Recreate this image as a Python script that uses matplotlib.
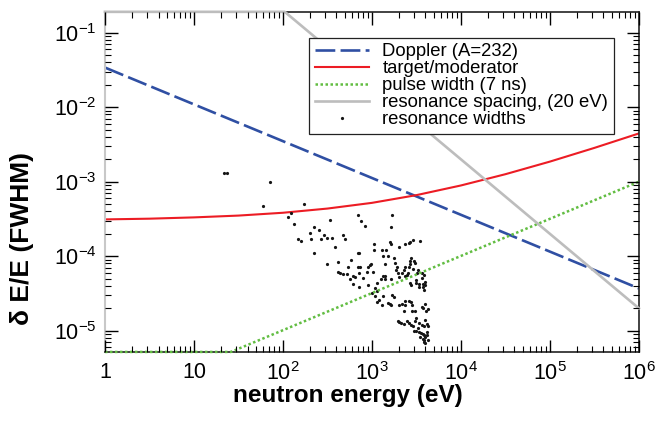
import numpy as np
import matplotlib.pyplot as plt
from matplotlib.ticker import LogLocator, NullFormatter, FixedLocator, FixedFormatter

plt.rcParams['font.family'] = ['Liberation Sans', 'DejaVu Sans']
plt.rcParams['mathtext.default'] = 'regular'

y_lim = (5.2e-6, 0.19)
x_lim = (1, 1e6)

# Doppler broadening (A=232)
doppler_e = [1, 1e6]
doppler_w = [0.034, 3.7e-5]

# target/moderator contribution
target_e = [1, 3.16, 10, 31.6, 100, 316, 1e3, 3.16e3, 1e4, 3.16e4, 1e5, 3.16e5, 1e6]
target_w = [3.12e-4, 3.19e-4, 3.32e-4, 3.51e-4, 3.83e-4, 4.36e-4, 5.2e-4,
            6.6e-4, 8.9e-4, 1.26e-3, 1.86e-3, 2.84e-3, 4.44e-3]

# pulse width (7 ns), runs along the bottom edge where it is off scale
pulse_e = [1, 26, 1e6]
pulse_w = [5.2e-6, 5.2e-6, 1.0e-3]

# resonance spacing (20 eV), runs along the top edge where it is off scale
spacing_e = [1, 105, 1e6]
spacing_w = [0.19, 0.19, 2.0e-5]

# resonance widths, log10(E) and log10(dE/E)
res_log_e = [1.34, 1.37, 1.85, 1.78, 2.24, 2.09, 2.06, 2.12, 2.17, 2.20,
             2.30, 2.35, 2.41, 2.31, 2.43, 2.46, 2.50, 2.53, 2.55, 2.58,
             2.35, 2.50, 2.62, 2.62, 2.64, 2.68, 2.70, 2.73, 2.72, 2.67,
             2.77, 2.79, 2.81, 2.75, 2.84, 2.88, 2.92, 2.84, 2.86, 2.84,
             2.87, 2.86, 2.90, 2.94, 2.96, 2.98, 3.01, 3.02, 3.02, 3.23,
             3.22, 3.20, 3.21, 3.37, 3.42, 3.43, 3.46, 3.54, 3.31, 3.11,
             3.16, 3.13, 3.18, 3.44, 3.43, 3.47, 3.25, 3.15, 3.26, 2.99,
             3.43, 3.48, 3.42, 3.37, 3.28, 3.36, 3.46, 3.27, 3.29, 3.34,
             3.40, 3.52, 3.56, 3.51, 3.13, 3.15, 3.37, 3.31, 3.10, 3.15,
             3.22, 3.56, 3.59, 3.06, 3.03, 3.06, 3.39, 3.43, 3.44, 3.49,
             3.50, 3.53, 3.53, 3.57, 3.57, 3.58, 3.60, 3.60, 3.13, 3.23,
             3.25, 3.18, 3.20, 3.11, 3.22, 3.31, 3.34, 3.37, 3.37, 3.42,
             3.44, 3.45, 3.36, 3.45, 3.48, 3.56, 3.57, 3.60, 3.61, 3.63,
             3.29, 3.31, 3.33, 3.36, 3.39, 3.42, 3.44, 3.46, 3.48, 3.49,
             3.53, 3.56, 3.58, 3.60, 3.62, 3.63, 3.50, 3.53, 3.55, 3.57,
             3.59, 3.60, 3.54, 3.57, 3.58, 3.59, 3.60, 3.62, 3.62, 3.63,
             3.52, 3.47, 2.79, 2.86, 2.96, 3.00, 3.03, 3.06, 3.08]
res_log_w = [-2.89, -2.88, -3.01, -3.33, -3.30, -3.42, -3.48, -3.57, -3.77, -3.79,
             -3.69, -3.61, -3.65, -3.77, -3.77, -3.72, -3.76, -3.52, -3.75, -3.88,
             -3.95, -4.10, -4.08, -4.21, -4.23, -3.72, -3.77, -4.14, -4.24, -4.24,
             -4.05, -4.27, -4.28, -4.30, -3.45, -3.53, -3.59, -3.96, -3.96, -4.14,
             -4.15, -4.22, -4.29, -4.21, -4.15, -4.12, -4.21, -3.84, -3.91, -3.45,
             -3.61, -3.81, -3.83, -3.83, -3.82, -3.81, -3.78, -3.79, -3.88, -3.91,
             -3.92, -4.00, -4.00, -4.02, -4.06, -4.06, -4.03, -4.11, -4.09, -4.11,
             -4.10, -4.09, -4.14, -4.14, -4.15, -4.18, -4.17, -4.19, -4.22, -4.23,
             -4.23, -4.19, -4.23, -4.23, -4.27, -4.26, -4.27, -4.28, -4.30, -4.30,
             -4.30, -4.29, -4.25, -4.36, -4.42, -4.46, -4.25, -4.36, -4.39, -4.36,
             -4.32, -4.37, -4.41, -4.37, -4.41, -4.45, -4.35, -4.39, -4.54, -4.52,
             -4.55, -4.63, -4.64, -4.65, -4.65, -4.66, -4.64, -4.60, -4.65, -4.60,
             -4.62, -4.66, -4.73, -4.74, -4.73, -4.68, -4.70, -4.64, -4.73, -4.71,
             -4.87, -4.88, -4.90, -4.91, -4.87, -4.89, -4.92, -4.93, -4.87, -4.83,
             -4.90, -4.92, -4.93, -4.86, -4.91, -4.93, -5.00, -5.02, -5.03, -5.04,
             -5.06, -5.09, -5.09, -5.11, -5.13, -5.15, -5.17, -5.02, -5.06, -5.12,
             -4.96, -5.00, -4.37, -4.41, -4.39, -4.49, -4.54, -4.61, -4.59]

x_ticks = [1, 10, 1e2, 1e3, 1e4, 1e5, 1e6]
x_tick_labels = ['1', '10', '$10^{2}$', '$10^{3}$', '$10^{4}$', '$10^{5}$', '$10^{6}$']
y_ticks = [1e-5, 1e-4, 1e-3, 1e-2, 1e-1]
y_tick_labels = ['$10^{-5}$', '$10^{-4}$', '$10^{-3}$', '$10^{-2}$', '$10^{-1}$']

fig = plt.figure(figsize=(6.6, 4.23), dpi=100)
ax = fig.add_axes([0.159, 0.168, 0.809, 0.804])

ax.plot(doppler_e, doppler_w, color='#2f4fa3', lw=1.9, dashes=(7.5, 2.0),
        label='Doppler (A=232)')
ax.plot(target_e, target_w, color='#ec1c24', lw=1.5, label='target/moderator')
ax.plot(pulse_e, pulse_w, color='#62bd42', lw=1.8, dashes=(1.0, 1.0),
        label='pulse width (7 ns)', clip_on=False, zorder=3)
ax.plot(spacing_e, spacing_w, color='#bdbdbd', lw=1.9,
        label='resonance spacing, (20 eV)', clip_on=False, zorder=3)
ax.plot(10 ** np.array(res_log_e), 10 ** np.array(res_log_w), 'o', color='#151515',
        ms=2.3, mew=0, label='resonance widths')

ax.set_xscale('log')
ax.set_yscale('log')
ax.set_xlim(x_lim)
ax.set_ylim(y_lim)

ax.xaxis.set_major_locator(FixedLocator(x_ticks))
ax.xaxis.set_major_formatter(FixedFormatter(x_tick_labels))
ax.yaxis.set_major_locator(FixedLocator(y_ticks))
ax.yaxis.set_major_formatter(FixedFormatter(y_tick_labels))
ax.xaxis.set_minor_locator(LogLocator(base=10, subs=np.arange(2, 10), numticks=20))
ax.yaxis.set_minor_locator(LogLocator(base=10, subs=np.arange(2, 10), numticks=20))
ax.xaxis.set_minor_formatter(NullFormatter())
ax.yaxis.set_minor_formatter(NullFormatter())

ax.tick_params(which='both', direction='in', top=True, right=True, labelsize=15.5)
ax.tick_params(which='major', length=9, width=1.0)
ax.tick_params(which='minor', length=4.5, width=0.8)
ax.tick_params(axis='x', pad=7)
ax.tick_params(axis='y', pad=6)
# ticks drawn above the edge-hugging lines
ax.xaxis.set_zorder(3.5)
ax.yaxis.set_zorder(3.5)

for side in ['bottom', 'right', 'top']:
    ax.spines[side].set_color('#222222')
    ax.spines[side].set_linewidth(1.2)
ax.spines['left'].set_color('#c8c8c8')
ax.spines['left'].set_linewidth(1.5)

ax.set_xlabel('neutron energy (eV)', fontsize=17.5, fontweight='bold')
ax.xaxis.set_label_coords(0.455, -0.095)
ax.set_ylabel('\u03b4 E/E (FWHM)', fontsize=19, fontweight='bold')
ax.yaxis.set_label_coords(-0.133, 0.335)

leg = ax.legend(loc='upper right', bbox_to_anchor=(0.953, 0.924), borderaxespad=0,
                fontsize=13.3, frameon=True, fancybox=False, framealpha=1,
                edgecolor='#222222', handlelength=2.9, handletextpad=0.75,
                labelspacing=0.0, borderpad=0.3, markerscale=1.0)
leg.get_frame().set_linewidth(0.9)

fig.savefig('out.png', dpi=100)
